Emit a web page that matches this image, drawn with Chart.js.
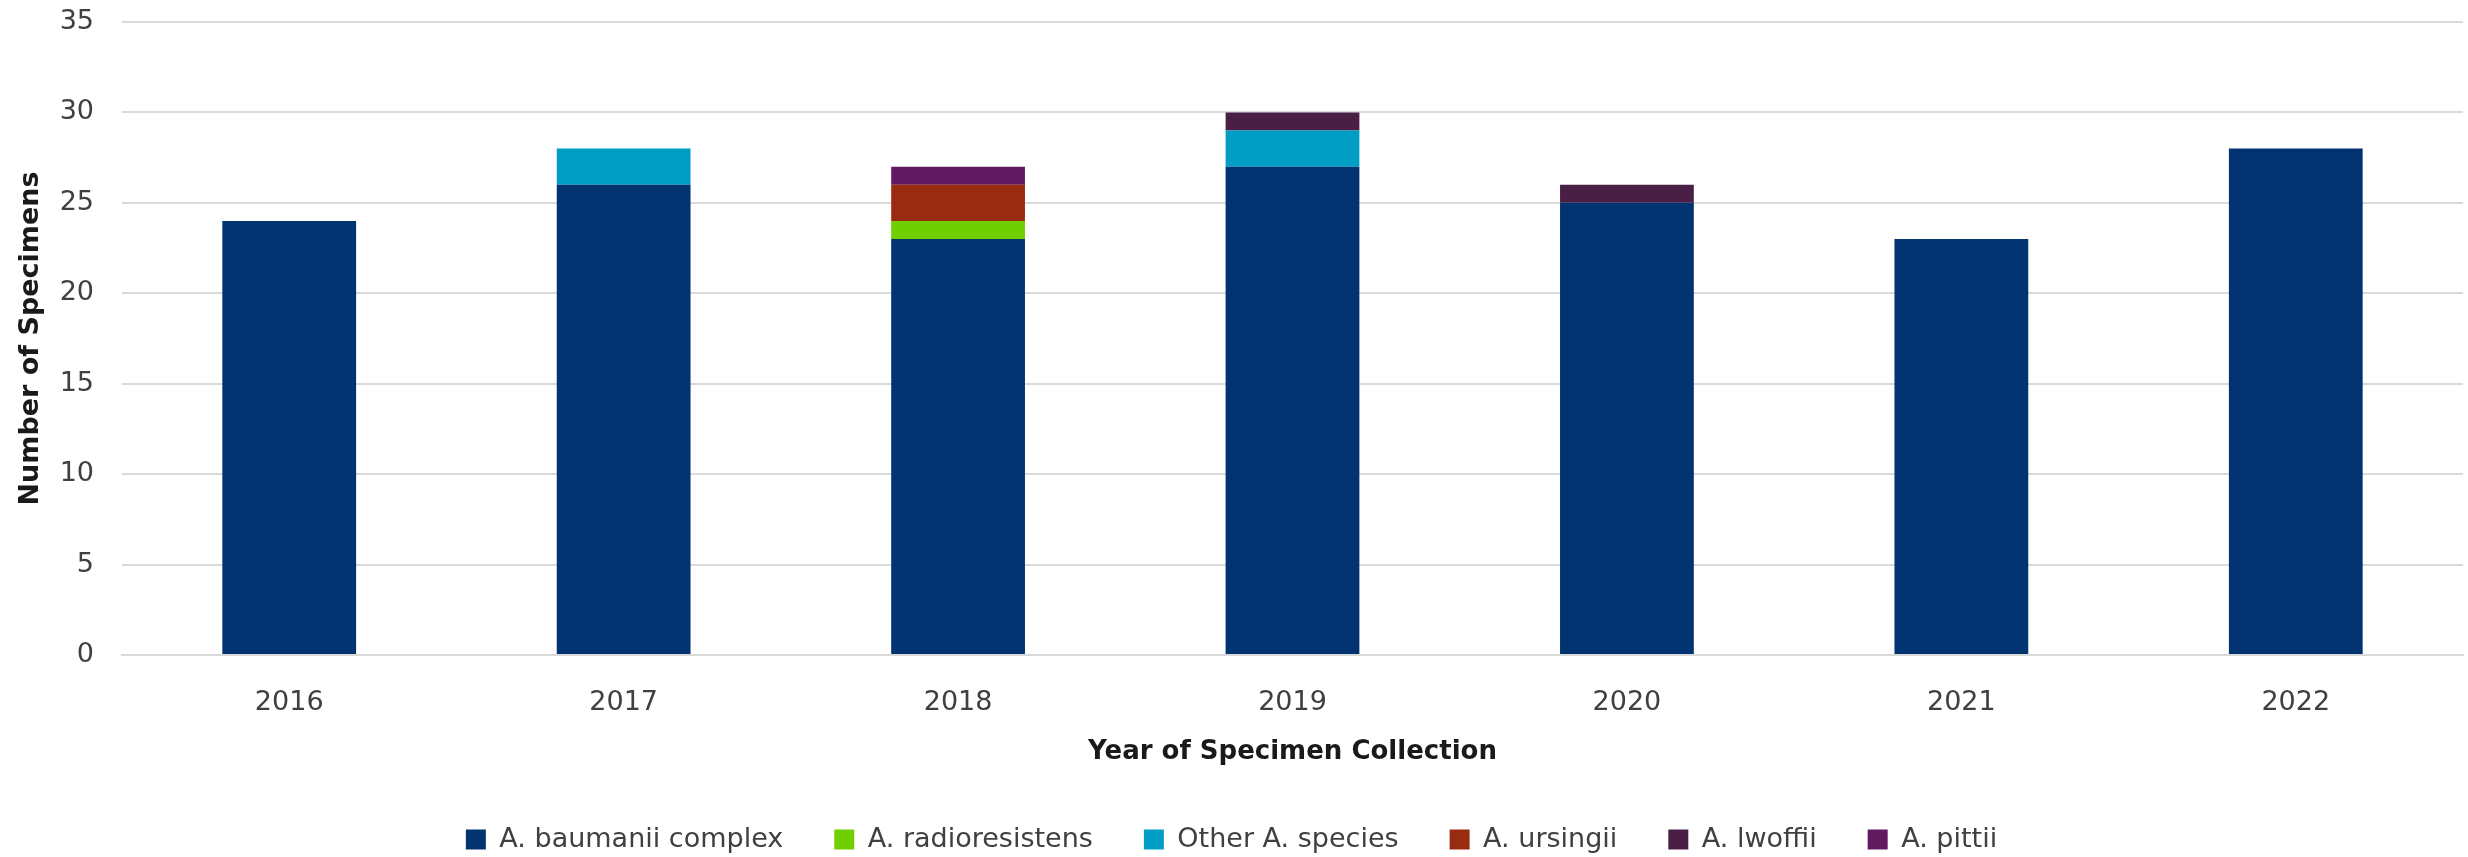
<!DOCTYPE html>
<html>
<head>
<meta charset="utf-8">
<script src="https://cdn.jsdelivr.net/npm/chart.js@4"></script>
<style>
  html, body { margin: 0; padding: 0; background: #fff; }
  #wrap { width: 2468px; height: 857px; }
</style>
</head>
<body>
<div id="wrap"><canvas id="specimens"></canvas></div>
<script>
const years = ["2016", "2017", "2018", "2019", "2020", "2021", "2022"];

const baumanii = [24, 26, 23, 27, 25, 23, 28];
const radioresistens = [0, 0, 1, 0, 0, 0, 0];
const otherSpecies = [0, 2, 0, 2, 0, 0, 0];
const ursingii = [0, 0, 2, 0, 0, 0, 0];
const lwoffii = [0, 0, 0, 1, 1, 0, 0];
const pittii = [0, 0, 1, 0, 0, 0, 0];

const yTicks = [0, 5, 10, 15, 20, 25, 30, 35];

// fixed legend band at the bottom, items pushed down a little
const legendBand = {
  id: "legendBand",
  beforeInit(chart) {
    const fit = chart.legend.fit;
    chart.legend.fit = function () {
      fit.bind(chart.legend)();
      this.height = 89;
    };
  },
  afterLayout(chart) {
    chart.legend.top += 7;
  }
};

var ctx = document.getElementById("specimens").getContext("2d");

var specimenChart = new Chart(ctx, {
  type: "bar",
  data: {
    labels: years,
    datasets: [
      { label: "A. baumanii complex", data: baumanii, backgroundColor: "#003370" },
      { label: "A. radioresistens", data: radioresistens, backgroundColor: "#70cf00" },
      { label: "Other A. species", data: otherSpecies, backgroundColor: "#009dc4" },
      { label: "A. ursingii", data: ursingii, backgroundColor: "#992b10" },
      { label: "A. lwoffii", data: lwoffii, backgroundColor: "#4a1f46" },
      { label: "A. pittii", data: pittii, backgroundColor: "#611a60" }
    ]
  },
  options: {
    responsive: true,
    maintainAspectRatio: false,
    animation: false,
    layout: {
      padding: { top: 22, right: 5, bottom: 0, left: 0 }
    },
    datasets: {
      bar: { barPercentage: 0.4, categoryPercentage: 1, borderWidth: 0 }
    },
    plugins: {
      tooltip: { enabled: false },
      legend: {
        position: "bottom",
        labels: {
          boxWidth: 20,
          boxHeight: 20,
          padding: 51,
          color: "#404040",
          font: { family: "DejaVu Sans", size: 27 }
        }
      }
    },
    scales: {
      x: {
        stacked: true,
        afterFit(axis) {
          axis.height = 113;
        },
        grid: { display: false, drawTicks: false },
        border: { display: true, color: "#d9d9d9", width: 2 },
        ticks: {
          padding: 32,
          color: "#404040",
          font: { family: "DejaVu Sans", size: 27 }
        },
        title: {
          display: true,
          text: "Year of Specimen Collection",
          color: "#1a1a1a",
          padding: { top: 0, bottom: 0 },
          font: { family: "DejaVu Sans", size: 26, weight: "bold" }
        }
      },
      y: {
        stacked: true,
        min: 0,
        max: 35,
        afterBuildTicks(axis) {
          axis.ticks = yTicks.map(v => ({ value: v }));
        },
        afterFit(axis) {
          axis.width = 122;
          axis.paddingTop = 0;
          axis.paddingBottom = 0;
        },
        grid: { color: "#d9d9d9", lineWidth: 2, drawTicks: false },
        border: { display: false },
        ticks: {
          padding: 28,
          color: "#404040",
          font: { family: "DejaVu Sans", size: 27 }
        },
        title: {
          display: true,
          text: "Number of Specimens",
          color: "#1a1a1a",
          padding: { top: 15, bottom: 0 },
          font: { family: "DejaVu Sans", size: 27, weight: "bold" }
        }
      }
    }
  },
  plugins: [legendBand]
});
</script>
</body>
</html>
